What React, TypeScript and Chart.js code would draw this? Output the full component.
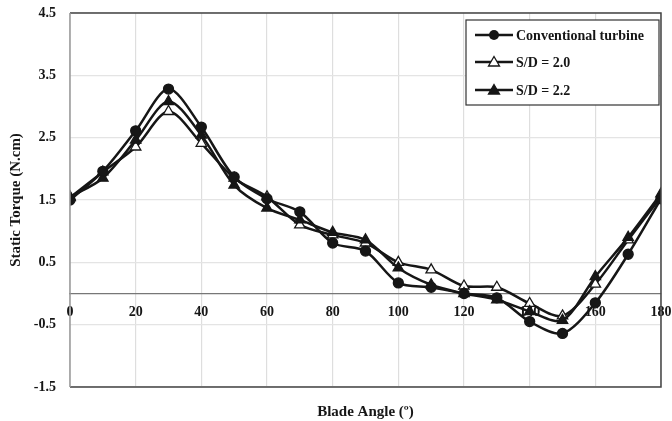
import React, { useEffect, useRef } from "react";
import { Chart, registerables } from "chart.js";

Chart.register(...registerables);

const angles = [0, 10, 20, 30, 40, 50, 60, 70, 80, 90, 100, 110, 120, 130, 140, 150, 160, 170, 180];
const conventional = [1.5, 1.96, 2.61, 3.28, 2.67, 1.87, 1.52, 1.31, 0.81, 0.68, 0.17, 0.1, 0.0, -0.07, -0.45, -0.64, -0.15, 0.63, 1.52];
const sd20 = [1.54, 1.95, 2.35, 2.92, 2.41, 1.85, 1.55, 1.1, 0.94, 0.81, 0.5, 0.38, 0.12, 0.1, -0.16, -0.36, 0.15, 0.86, 1.55];
const sd22 = [1.55, 1.85, 2.46, 3.08, 2.54, 1.74, 1.37, 1.18, 0.98, 0.86, 0.41, 0.14, 0.0, -0.1, -0.29, -0.43, 0.27, 0.9, 1.6];
const seriesNames = ["Conventional turbine", "S/D = 2.0", "S/D = 2.2"];
const xTitle = "Blade Angle (º)";
const yTitle = "Static Torque (N.cm)";

const FONT = "'Liberation Serif', 'Times New Roman', serif";
const INK = "#161616";

const zeroPad = (s: any) => {
  s.paddingTop = 0;
  s.paddingBottom = 0;
  s.paddingLeft = 0;
  s.paddingRight = 0;
};

const frameAndLegend = {
  id: "frameAndLegend",
  afterDatasetsDraw(chart: any) {
    const { ctx, chartArea: a } = chart;
    ctx.save();
    ctx.lineWidth = 1.5;
    ctx.strokeStyle = "#444";
    ctx.beginPath();
    ctx.moveTo(a.left, a.top);
    ctx.lineTo(a.right, a.top);
    ctx.lineTo(a.right, a.bottom);
    ctx.lineTo(a.left, a.bottom);
    ctx.stroke();
    ctx.strokeStyle = "#999";
    ctx.beginPath();
    ctx.moveTo(a.left, a.top);
    ctx.lineTo(a.left, a.bottom);
    ctx.stroke();
    const bx = 466, by = 20, bw = 193, bh = 85;
    ctx.fillStyle = "#fff";
    ctx.fillRect(bx, by, bw, bh);
    ctx.strokeStyle = "#333";
    ctx.lineWidth = 1.2;
    ctx.strokeRect(bx, by, bw, bh);
    const rows = [35, 62, 90];
    chart.data.datasets.forEach((ds: any, i: number) => {
      const y = rows[i];
      ctx.strokeStyle = INK;
      ctx.lineWidth = 2.5;
      ctx.beginPath();
      ctx.moveTo(475, y);
      ctx.lineTo(513, y);
      ctx.stroke();
      const cx = 494;
      ctx.lineWidth = 1.3;
      if (ds.pointStyle === "circle") {
        ctx.fillStyle = INK;
        ctx.beginPath();
        ctx.arc(cx, y, 5, 0, Math.PI * 2);
        ctx.fill();
      } else {
        ctx.fillStyle = ds.pointBackgroundColor;
        ctx.beginPath();
        ctx.moveTo(cx, y - 5.5);
        ctx.lineTo(cx + 5.5, y + 4);
        ctx.lineTo(cx - 5.5, y + 4);
        ctx.closePath();
        ctx.fill();
        ctx.stroke();
      }
      ctx.fillStyle = INK;
      ctx.font = `bold 14px ${FONT}`;
      ctx.textBaseline = "middle";
      ctx.textAlign = "left";
      ctx.fillText(ds.label, 516, y + 1);
    });
    ctx.restore();
  },
};

export default function App() {
  const ref = useRef<HTMLCanvasElement>(null);
  useEffect(() => {
    document.body.style.margin = "0";
    const mk = (label: string, vals: number[], style: string, fill: string, order: number) => ({
      label,
      order,
      data: angles.map((a, i) => ({ x: a, y: vals[i] })),
      borderColor: INK,
      borderWidth: 2.5,
      pointStyle: style,
      pointRadius: style === "circle" ? 5 : 6,
      pointBackgroundColor: fill,
      pointBorderColor: INK,
      pointBorderWidth: 1.3,
      tension: 0.3,
      fill: false,
    });
    const chart = new Chart(ref.current!, {
      type: "line",
      data: {
        datasets: [
          mk(seriesNames[0], conventional, "circle", INK, 0),
          mk(seriesNames[1], sd20, "triangle", "#fff", 2),
          mk(seriesNames[2], sd22, "triangle", INK, 1),
        ],
      },
      options: {
        animation: false,
        responsive: false,
        layout: { padding: { left: 0, top: 13, right: 11, bottom: 0 } },
        plugins: { legend: { display: false }, tooltip: { enabled: false } },
        scales: {
          x: {
            type: "linear",
            position: { y: 0 },
            min: 0,
            max: 180,
            ticks: { stepSize: 20, color: INK, font: { family: FONT, size: 14, weight: "bold" }, padding: 10 },
            grid: { color: "#dedede", lineWidth: 1.2, drawTicks: false },
            border: { color: "#777", width: 1.3 },
            afterFit: zeroPad,
          },
          xt: {
            type: "linear",
            axis: "x",
            position: "bottom",
            min: 0,
            max: 180,
            ticks: { display: false },
            grid: { display: false },
            border: { display: false },
            title: { display: true, text: xTitle, color: INK, font: { family: FONT, size: 15, weight: "bold" }, padding: { top: 6, bottom: 0 } },
            afterFit: (s: any) => { s.height = 34; zeroPad(s); },
          },
          y: {
            type: "linear",
            min: -1.5,
            max: 4.5,
            ticks: { stepSize: 1, color: INK, font: { family: FONT, size: 14, weight: "bold" }, padding: 14 },
            grid: { color: "#e4e4e4", lineWidth: 1.2, drawTicks: false },
            border: { display: false },
            title: { display: true, text: yTitle, color: INK, font: { family: FONT, size: 15, weight: "bold" }, padding: { top: 7, bottom: 0 } },
            afterFit: (s: any) => { s.width = 70; zeroPad(s); },
          },
        },
      },
      plugins: [frameAndLegend],
    } as any);
    return () => chart.destroy();
  }, []);
  return <canvas ref={ref} width={672} height={421} style={{ display: "block" }} />;
}
